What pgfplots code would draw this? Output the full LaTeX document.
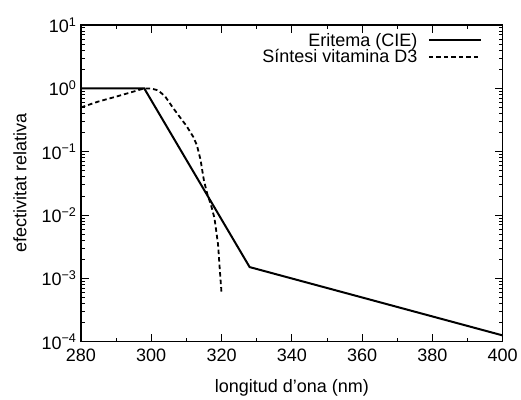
\documentclass[border=0pt]{standalone}
\usepackage{pgfplots}
\pgfplotsset{compat=1.18}
\usepackage{fontspec}
\setmainfont{Liberation Sans}
\begin{document}
\begin{tikzpicture}
\begin{axis}[
 name=ax,
 scale only axis, width=422pt, height=317pt,
 ymode=log, xmin=280, xmax=400, ymin=1e-4, ymax=10,
 xtick={280,300,...,400}, minor x tick num=1,
 ytick={1e-4,1e-3,1e-2,1e-1,1,10},
 yticklabels={10\textsuperscript{−4},10\textsuperscript{−3},10\textsuperscript{−2},10\textsuperscript{−1},10\textsuperscript{0},10\textsuperscript{1}},
 tick pos=both, tick align=inside,
 major tick length=8pt, minor tick length=4pt,
 axis line style={line width=1.2pt},
 every tick/.style={line width=0.9pt, black},
 font=\fontsize{18}{21}\selectfont,
 tick label style={font=\fontsize{18}{21}\selectfont},
 xticklabel style={/pgf/number format/assume math mode=true, /pgf/number format/1000 sep={}, yshift=-4pt},
 yticklabel style={xshift=-1pt},
 xlabel={longitud d’ona (nm)},
 ylabel={efectivitat relativa},
 xlabel style={at={(rel axis cs:0.5,0)}, anchor=center, yshift=-46pt},
 ylabel style={at={([xshift=-61pt]rel axis cs:0,0.5)}, anchor=center},
 legend style={draw=none, fill=none, inner sep=0pt, at={(rel axis cs:0.951,0.977)}, anchor=north east,
   font=\fontsize{18}{21}\selectfont, row sep=1pt, column sep=10pt, nodes={inner sep=0.5pt}},
 legend cell align=right, legend plot pos=right,
 legend image code/.code={\draw[#1] (0pt,0pt) -- (52pt,0pt);},
]
\addplot[black, line width=2pt] coordinates {
 (280,1) (298,1) (328,0.00151) (400,0.000126)
};
\addlegendentry{Eritema (CIE)}
\addplot[black, line width=1.8pt, dash pattern=on 4.5pt off 3pt] coordinates {
 (280,0.50) (285,0.62) (290,0.74) (295,0.89) (298,1.0) (300,0.99) (302,0.93)
 (304,0.74) (306,0.51) (308,0.36) (310,0.257) (312,0.17) (313,0.126)
 (314,0.076) (315,0.035) (316,0.021) (317,0.0145) (318,0.0089)
 (319,0.0035) (319.5,0.0014) (320,0.00059)
};
\addlegendentry{Síntesi vitamina D3}
\coordinate (ll) at (rel axis cs:0,0);
\coordinate (ur) at (rel axis cs:1,1);
\end{axis}
\path ([shift={(-81pt,-53pt)}]ll) rectangle ([shift={(18pt,25pt)}]ur);
\end{tikzpicture}
\end{document}
